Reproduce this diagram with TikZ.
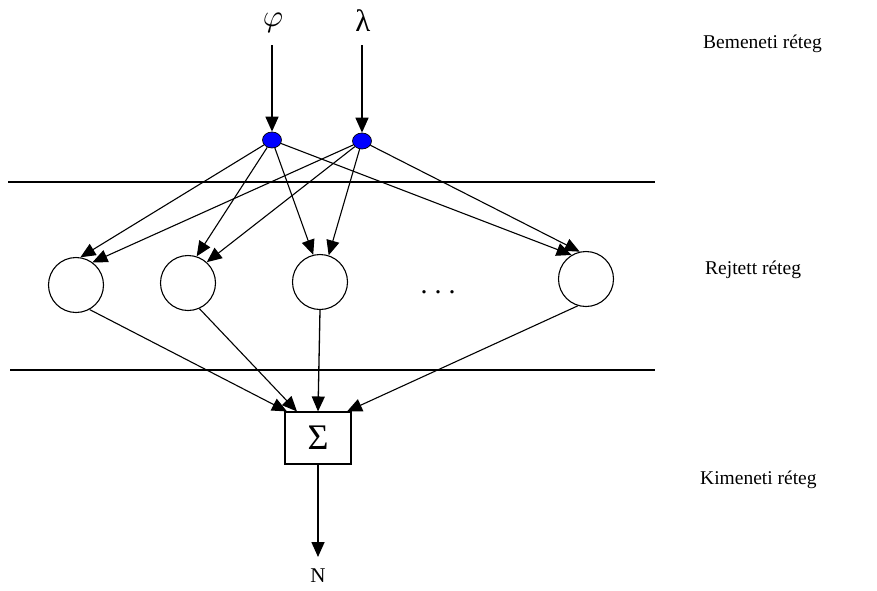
\documentclass[tikz,border=0pt]{standalone}
\usepackage{fontspec}
\setmainfont{Liberation Serif}
\usetikzlibrary{arrows.meta,shapes.geometric}
\definecolor{dotblue}{RGB}{0,0,255}
\tikzset{
  tip/.style={-{Triangle[length=15pt,width=13pt]}},
  fan/.style={tip,line width=1.1pt},
  feed/.style={tip,line width=1.6pt},
  inputdot/.style={ellipse,draw=black,line width=0.7pt,fill=dotblue,
    minimum width=19pt,minimum height=16pt,inner sep=0pt},
  neuron/.style={ellipse,draw=black,line width=1.1pt,
    minimum width=55pt,minimum height=55pt,inner sep=0pt},
  sumbox/.style={rectangle,draw=black,line width=1.1pt,
    minimum width=66pt,minimum height=52pt,inner sep=0pt},
  layerlabel/.style={anchor=west,font=\fontsize{19.5}{22}\selectfont,inner sep=0pt},
  sym/.style={inner sep=0pt}
}
\begin{document}
\begin{tikzpicture}[x=1pt,y=-1pt]
\useasboundingbox (0,0) rectangle (877,590);

% layer separators
\draw[line width=1.1pt] (8,182) -- (655,182);
\draw[line width=1.1pt] (10,370) -- (655,370);

% inputs
\node[sym,scale=3.1] (phi) at (273,23) {$\varphi$};
\node[sym,font=\fontsize{31}{34}\selectfont] (lam) at (363,21) {λ};
\node[inputdot] (d1) at (272,140) {};
\node[inputdot] (d2) at (362,141) {};
\draw[feed] (d1 |- 0,45) -- (d1.north);
\draw[feed] (d2 |- 0,45) -- (d2.north);

% hidden neurons
\node[neuron] (c1) at (76,285) {};
\node[neuron] (c2) at (188,283) {};
\node[neuron] (c3) at (320,282) {};
\node[neuron] (c4) at (586,279) {};
\node[anchor=base,font=\fontsize{28}{30}\selectfont,inner sep=0pt] (dots) at (438,293) {.\hspace{7pt}.\hspace{7pt}.};

% input to hidden connections
\draw[fan] (d1) -- (c1.81);
\draw[fan] (d2) -- (c1.54);
\draw[fan] (d1) -- (c2.72);
\draw[fan] (d2) -- (c2.48);
\draw[fan] (d1) -- (c3.104);
\draw[fan] (d2) -- (c3.72);
\draw[fan] (d1) -- (c4.121);
\draw[fan] (d2) -- (c4.103);

% output summation
\node[sumbox] (s) at (318,438) {\fontsize{36}{38}\selectfont Σ};
\draw[fan] (c1.-61) -- ([xshift=-31pt]s.north);
\draw[fan] (c2.-66) -- ([xshift=-21pt]s.north);
\draw[feed,line width=1.3pt] (c3.south) -- (s.north);
\draw[fan] (c4.-107) -- ([xshift=29pt]s.north);

\node[anchor=north,inner sep=0pt,font=\fontsize{21}{24}\selectfont] (N) at (318,569) {N};
\draw[feed] (s.south) -- ([yshift=12pt]N.north);

% layer names
\node[layerlabel] (lb1) at (703,44) {Bemeneti réteg};
\node[layerlabel] (lb2) at (705,270) {Rejtett réteg};
\node[layerlabel] (lb3) at (700,480) {Kimeneti réteg};
\end{tikzpicture}
\end{document}
